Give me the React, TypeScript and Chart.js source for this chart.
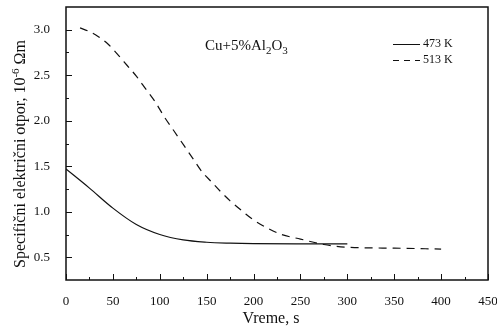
import React, { useEffect, useRef } from "react";
import { Chart, registerables } from "chart.js";

Chart.register(...registerables);

const solidX = [0, 25, 50, 75, 100, 125, 150, 175, 200, 250, 300];
const solidY = [1.47, 1.26, 1.04, 0.86, 0.75, 0.69, 0.665, 0.655, 0.65, 0.648, 0.648];
const dashedX = [15, 25, 35, 45, 55, 65, 75, 85, 95, 105, 115, 125, 135, 145, 155, 165, 175, 190, 200, 215, 230, 250, 275, 300, 350, 400];
const dashedY = [3.02, 2.98, 2.92, 2.84, 2.73, 2.61, 2.49, 2.35, 2.21, 2.04, 1.89, 1.74, 1.59, 1.44, 1.33, 1.22, 1.12, 0.99, 0.91, 0.82, 0.75, 0.7, 0.64, 0.61, 0.6, 0.59];
const xTicks = [0, 50, 100, 150, 200, 250, 300, 350, 400, 450];
const yTicks = [0.5, 1.0, 1.5, 2.0, 2.5, 3.0];
const seriesLabels = ["473 K", "513 K"];

const SERIF = "'Liberation Serif', 'DejaVu Serif', serif";

const decor = {
  id: "decor",
  afterDraw(chart: any) {
    const ctx = chart.ctx as CanvasRenderingContext2D;
    const { left, right, top, bottom } = chart.chartArea;
    const xs = chart.scales.x;
    const ys = chart.scales.y;
    ctx.save();
    ctx.strokeStyle = "#111";
    ctx.lineWidth = 1.5;
    ctx.strokeRect(left, top, right - left, bottom - top);
    ctx.lineWidth = 1;
    for (let v = 0; v <= 450; v += 25) {
      const px = Math.round(xs.getPixelForValue(v)) + 0.5;
      const len = v % 50 === 0 ? 6 : 3;
      ctx.beginPath();
      ctx.moveTo(px, bottom);
      ctx.lineTo(px, bottom - len);
      ctx.stroke();
    }
    for (let v = 0.5; v <= 3.0001; v += 0.25) {
      const py = Math.round(ys.getPixelForValue(v)) + 0.5;
      const len = Math.abs(v * 2 - Math.round(v * 2)) < 1e-6 ? 6 : 3;
      ctx.beginPath();
      ctx.moveTo(left, py);
      ctx.lineTo(left + len, py);
      ctx.stroke();
    }
    ctx.fillStyle = "#111";
    let x = 205;
    const by = 50;
    const parts: [string, boolean][] = [["Cu+5%Al", false], ["2", true], ["O", false], ["3", true]];
    for (const [t, sub] of parts) {
      ctx.font = (sub ? "11px " : "15px ") + SERIF;
      ctx.textBaseline = "alphabetic";
      ctx.textAlign = "left";
      ctx.fillText(t, x, sub ? by + 4 : by);
      x += ctx.measureText(t).width;
    }
    ctx.lineWidth = 1;
    ctx.beginPath();
    ctx.moveTo(393, 44.5);
    ctx.lineTo(420, 44.5);
    ctx.stroke();
    ctx.setLineDash([6, 5]);
    ctx.beginPath();
    ctx.moveTo(393, 60.5);
    ctx.lineTo(420, 60.5);
    ctx.stroke();
    ctx.setLineDash([]);
    ctx.font = "12px " + SERIF;
    ctx.textBaseline = "middle";
    ctx.fillText(seriesLabels[0], 423, 44);
    ctx.fillText(seriesLabels[1], 423, 60);
    ctx.font = "16px " + SERIF;
    ctx.textAlign = "center";
    ctx.textBaseline = "middle";
    ctx.fillText("Vreme, s", 271, 319);
    ctx.translate(21, 154);
    ctx.rotate(-Math.PI / 2);
    const yparts: [string, boolean][] = [["Specifični električni otpor, 10", false], ["-6", true], [" Ωm", false]];
    ctx.textAlign = "left";
    ctx.textBaseline = "middle";
    let total = 0;
    for (const [t, sup] of yparts) {
      ctx.font = (sup ? "11px " : "16px ") + SERIF;
      total += ctx.measureText(t).width;
    }
    let cx = -total / 2;
    for (const [t, sup] of yparts) {
      ctx.font = (sup ? "11px " : "16px ") + SERIF;
      ctx.fillText(t, cx, sup ? -5 : 0);
      cx += ctx.measureText(t).width;
    }
    ctx.restore();
  },
};

export default function App() {
  const ref = useRef<HTMLCanvasElement>(null);
  useEffect(() => {
    document.body.style.margin = "0";
    const chart = new Chart(ref.current!, {
      type: "scatter",
      data: {
        datasets: [
          {
            label: seriesLabels[0],
            data: solidX.map((x, i) => ({ x, y: solidY[i] })),
            showLine: true,
            borderColor: "#111",
            borderWidth: 1.2,
            pointRadius: 0,
            cubicInterpolationMode: "monotone",
          },
          {
            label: seriesLabels[1],
            data: dashedX.map((x, i) => ({ x, y: dashedY[i] })),
            showLine: true,
            borderColor: "#111",
            borderWidth: 1.2,
            borderDash: [8, 6],
            pointRadius: 0,
            cubicInterpolationMode: "monotone",
          },
        ],
      },
      options: {
        responsive: false,
        animation: false,
        layout: { padding: { left: 0, right: 9, top: 7, bottom: 0 } },
        plugins: { legend: { display: false }, tooltip: { enabled: false } },
        scales: {
          x: {
            type: "linear",
            min: 0,
            max: 450,
            afterBuildTicks: (s: any) => {
              s.ticks = xTicks.map((v) => ({ value: v }));
            },
            afterFit: (s: any) => {
              s.height = 52;
              s.paddingLeft = 0;
              s.paddingRight = 0;
            },
            grid: { display: false },
            border: { display: false },
            ticks: {
              color: "#111",
              padding: 6,
              maxRotation: 0,
              font: { family: SERIF, size: 13 },
              callback: (v: any) => String(v),
            },
          },
          y: {
            type: "linear",
            min: 0.25,
            max: 3.25,
            afterBuildTicks: (s: any) => {
              s.ticks = yTicks.map((v) => ({ value: v }));
            },
            afterFit: (s: any) => {
              s.width = 66;
              s.paddingTop = 0;
              s.paddingBottom = 0;
            },
            grid: { display: false },
            border: { display: false },
            ticks: {
              color: "#111",
              padding: 8,
              font: { family: SERIF, size: 13 },
              callback: (v: any) => Number(v).toFixed(1),
            },
          },
        },
      },
      plugins: [decor],
    });
    return () => chart.destroy();
  }, []);
  return (
    <div style={{ position: "absolute", left: 0, top: 0, width: 497, height: 332, background: "#fff" }}>
      <canvas ref={ref} width={497} height={332} />
    </div>
  );
}
